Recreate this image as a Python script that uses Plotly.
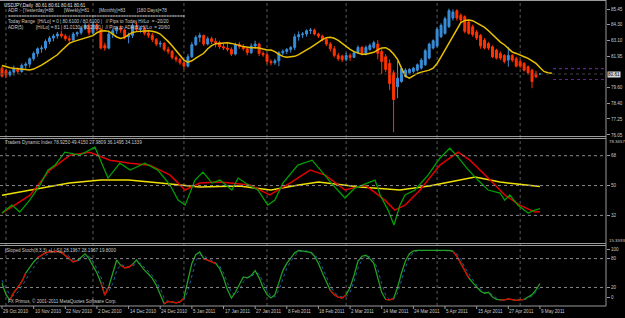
import plotly.graph_objects as go
import pandas as pd

# ---------------- data ----------------
dates = pd.bdate_range("2010-10-29", "2011-05-09")  # daily bars (weekdays)
idx = list(range(len(dates)))

opens = [81.05,80.85,80.55,80.75,81.00,80.80,81.25,81.35,81.75,82.15,82.50,82.55,83.05,83.30,83.45,83.60,83.45,83.25,83.15,83.60,
         83.70,84.05,84.25,83.70,84.30,83.95,82.75,82.55,83.60,83.85,84.05,83.90,83.40,83.50,84.20,83.95,84.00,83.65,83.50,83.20,
         82.85,82.90,82.45,82.30,81.85,81.70,81.45,81.20,81.90,82.80,83.35,83.50,82.85,83.25,83.05,82.95,82.65,82.55,82.45,82.10,
         82.80,82.65,82.50,82.20,82.70,82.85,82.15,82.05,81.55,81.45,81.60,82.20,82.30,82.45,82.60,83.40,83.55,83.60,83.85,83.90,
         83.60,83.45,83.20,82.85,82.50,82.00,81.95,81.70,82.00,81.85,82.20,82.60,82.10,82.45,82.60,82.85,82.30,81.90,81.40,80.70,
         79.65,80.05,80.45,80.70,80.80,80.90,81.05,81.30,81.80,82.55,82.70,83.40,83.65,84.15,84.80,85.35,85.00,84.90,84.50,84.15,
         83.75,83.50,83.15,82.90,82.65,82.40,82.15,82.00,81.65,82.00,81.75,81.55,81.40,81.15,80.90,80.65,80.61]
highs = [81.20,81.00,80.90,81.25,81.10,81.40,81.50,81.85,82.30,82.60,82.75,83.20,83.45,83.60,83.75,83.85,83.60,83.50,83.75,83.80,
         84.20,84.45,84.40,84.45,84.40,84.05,82.95,83.85,84.00,84.15,84.25,84.00,83.70,84.40,84.50,84.20,84.15,83.90,83.70,83.30,
         83.10,83.00,82.65,82.40,82.00,81.80,81.60,82.10,83.00,83.50,83.70,83.55,83.40,83.40,83.30,83.10,82.90,82.85,82.60,82.95,
         83.00,82.85,82.60,82.90,83.10,82.95,82.30,82.15,81.70,81.75,82.30,82.45,82.55,82.70,83.60,83.80,83.75,83.95,84.05,84.00,
         83.70,83.55,83.35,83.00,82.70,82.20,82.05,82.20,82.15,82.30,82.75,82.70,82.75,82.90,83.10,83.15,82.50,82.10,81.70,80.90,
         81.60,81.10,81.05,81.05,81.15,81.40,81.80,82.50,82.95,83.20,84.10,84.40,84.90,85.50,85.45,85.45,85.15,85.00,84.65,84.30,
         83.90,83.60,83.30,83.00,82.75,82.50,82.30,82.10,82.65,82.10,81.90,81.70,81.50,81.25,81.00,80.85,80.61]
lows = [80.35,80.30,80.40,80.50,80.60,80.70,81.00,81.10,81.60,81.90,82.20,82.40,82.85,83.05,83.25,83.30,83.10,82.95,83.10,83.40,
        83.55,83.90,83.50,83.60,83.80,82.45,82.35,82.45,83.30,83.60,83.70,83.20,82.90,83.30,83.80,83.70,83.50,83.30,83.00,82.70,
        82.60,82.30,82.10,81.70,81.50,81.30,80.95,81.10,81.80,82.70,83.00,82.70,82.75,82.85,82.60,82.50,82.40,82.30,81.95,82.00,
        82.50,82.35,82.00,82.10,82.50,81.95,81.90,81.35,81.25,81.30,81.20,82.00,82.10,82.20,82.40,83.10,83.30,83.40,83.60,83.50,
        83.30,83.05,82.70,82.30,81.85,81.60,81.50,81.55,81.60,81.80,82.10,82.00,82.00,82.35,82.50,81.70,80.60,80.75,79.40,76.25,
        78.80,79.95,80.35,80.60,80.65,80.80,80.95,81.20,81.70,82.45,82.60,83.30,83.55,84.05,84.60,84.60,84.50,83.65,83.55,83.40,
        83.15,82.50,82.45,82.40,81.80,81.70,81.65,81.40,81.15,81.50,81.10,81.05,80.80,80.55,79.55,80.30,80.61]
closes = [80.45,80.55,80.75,81.00,80.80,81.25,81.35,81.75,82.15,82.50,82.55,83.05,83.30,83.45,83.60,83.45,83.25,83.15,83.60,83.70,
          84.05,84.25,83.70,84.30,83.95,82.55,82.55,83.60,83.85,84.05,83.90,83.40,83.50,84.20,83.95,84.00,83.65,83.50,83.20,82.85,
          82.90,82.45,82.30,81.85,81.70,81.45,81.20,81.90,82.80,83.35,83.50,82.85,83.25,83.05,82.95,82.65,82.55,82.45,82.10,82.80,
          82.65,82.50,82.20,82.70,82.85,82.15,82.05,81.55,81.45,81.60,82.20,82.30,82.45,82.60,83.40,83.55,83.60,83.85,83.90,83.60,
          83.45,83.20,82.85,82.50,82.00,81.75,81.70,82.00,81.85,82.20,82.60,82.10,82.60,82.75,82.95,82.15,81.55,80.95,79.90,78.70,
          80.30,81.00,80.90,80.95,81.05,81.30,81.65,82.35,82.85,83.10,83.95,84.25,84.75,85.35,85.25,84.80,84.65,83.80,83.65,83.55,
          83.30,82.70,82.55,82.55,81.90,81.80,81.80,81.55,82.00,81.65,81.20,81.20,80.90,80.70,80.05,80.40,80.61]

price_ma = [81.24,81.15,81.08,81.04,81.00,80.96,80.93,80.91,80.98,81.11,81.27,81.46,81.65,81.86,82.05,82.35,82.65,82.90,83.03,83.13,
            83.20,83.28,83.38,83.48,83.70,83.82,83.85,83.80,83.60,83.38,83.27,83.35,83.55,83.72,83.78,83.80,83.83,83.85,83.80,83.73,
            83.60,83.35,83.05,82.73,82.36,81.98,81.65,81.50,81.60,81.80,81.95,82.16,82.50,82.73,82.88,82.90,82.95,82.95,82.90,82.85,
            82.75,82.66,82.61,82.58,82.58,82.56,82.48,82.41,82.41,82.28,82.08,81.93,81.86,81.88,81.93,82.06,82.21,82.41,82.58,82.80,
            82.98,83.18,83.33,83.35,83.28,83.13,82.90,82.66,82.46,82.28,82.16,82.08,82.08,82.13,82.23,82.41,82.56,82.58,82.41,82.11,
            81.71,81.05,80.45,80.30,80.50,80.65,80.75,80.80,80.90,81.05,81.40,81.90,82.40,82.90,83.40,84.00,84.45,84.62,84.65,84.60,
            84.45,84.30,84.10,83.85,83.55,83.25,83.00,82.80,82.50,82.25,82.15,82.05,81.90,81.78,81.60,81.40,81.10,80.80,80.70,80.66]

tdi_g_idx = [0,2.5,4.5,7,9.6,11.6,13.4,15.9,19.7,23.5,26.8,29.8,32.4,36.1,39.4,42.5,44.5,46.3,48.8,50.8,53.1,55.1,58.1,59.7,
             62.7,64.7,67.2,69,71,74.8,78.4,80.9,83.7,86.7,89.2,93,94.3,95.6,97.6,99.1,100.6,101.9,104.4,107.7,110.7,113.2,
             115.3,117.5,120.3,122.9,125.9,127.1,128.4,130.4,133,134.7,136]
tdi_green = [33.4,38.2,34.0,41.2,50.3,59.3,62.3,70.1,68.3,73.1,54.5,63.5,59.3,63.5,59.3,50.3,41.2,38.2,53.3,58.1,51.5,53.3,47.3,54.5,
             49.7,47.3,38.2,41.2,51.5,62.3,65.3,58.1,50.3,42.5,48.5,52.1,53.3,44.3,35.2,26.2,38.2,44.3,47.3,56.3,66.5,72.5,
             67.1,60.5,53.3,47.3,45.5,41.2,44.3,38.2,33.4,35.2,36.15]
tdi_r_idx = [0,7.1,12.1,17.2,22.2,27.3,32.4,37.4,42.5,46.3,50,55.1,62.7,67.7,72.8,77.9,81.7,86.7,91.8,96.8,99.3,101.9,105.7,
             110.7,115.3,118.3,123.4,127.1,130.9,134.7,136]
tdi_red = [33.4,44.2,59.3,68.3,70.1,65.3,63.5,62.3,56.3,47.3,51.5,52.1,50.3,44.3,51.5,59.3,56.3,47.3,50.3,41.2,35.2,38.2,47.3,
           62.3,70.1,65.3,53.3,44.3,38.2,34.0,34.13]
tdi_y_idx = [0,7,17,25,32,40,46,50,60,68,75,80,90.5,100.6,108,115.8,119.6,125.9,136]
tdi_yellow = [44.2,47.3,51.5,53.3,53.3,51.5,50.3,49.1,49.7,47.3,50.3,52.1,49.1,47.3,49.7,53.3,55.1,52.1,49.4]

stoch_main = [29,5,-6,10,20,32,50,62,73,82,87,92,94,95,95,93,87,80,73,76,83,90,80,66,50,30,4,22,50,77,
              66,61,62,68,77,66,56,48,39,25,5,-14,-9,-10,-12,-10,-2,35,70,88,94,80,77,74,70,60,40,15,-2,10,
              25,42,40,45,55,40,20,5,-2,5,30,55,70,80,92,97,96,95,93,85,70,50,30,14,5,0,-2,5,20,45,
              75,85,87,80,70,40,10,-5,-6,-3,20,50,75,90,96,97,97,97,97,97,97,97,97,97,95,85,70,55,40,30,
              20,12,8,10,0,-5,-6,-6,-4,-6,-7,-6,-5,0,5,15,28.2]
stoch_sig = [35,18,5,3,10,22,35,50,62,73,81,87,91,94,95,94,91,85,78,75,78,85,85,75,60,42,20,12,28,55,
             68,65,62,64,70,70,62,54,45,33,18,-2,-9,-10,-11,-10,-6,12,45,75,88,86,80,76,72,65,50,30,10,4,
             14,32,40,42,50,48,32,14,2,0,15,40,60,74,86,94,96,96,94,89,78,62,42,24,10,3,0,1,10,32,
             60,78,86,84,76,58,28,4,-5,-5,8,35,62,82,93,96,97,97,97,97,97,97,97,97,96,90,78,62,48,36,
             25,16,10,9,5,-2,-5,-6,-5,-5,-6,-6,-5,-3,2,10,19.8]
stoch_red_ranges = [(2, 4), (5, 6), (9, 16), (17, 19), (25, 27), (30, 33), (41, 46), (51, 54),
                    (83, 87), (97, 99), (114, 118), (126, 132)]

price_ticks = [85.45, 84.30, 83.10, 81.95, 79.60, 78.40, 77.25, 76.05]
tdi_levels = [68, 50, 32]
stoch_levels = [80, 20]
last_price = 80.61
adr_hi, adr_lo = 81.013, 80.20

# ---------------- styling ----------------
BLUE = "#3A8ED8"
RED = "#FF3300"
GOLD = "#E8C000"
FONT = "Liberation Sans"
FS = 4.6
TXT = "#C8C8C8"
GRAY = "#9A9A9A"

PW, PH = 606.0, 306.0
def py(y):
    return (PH - y) / PH
def px(x):
    return x / PW

fig = go.Figure()

fig.add_trace(go.Candlestick(
    x=idx, open=opens, high=highs, low=lows, close=closes,
    increasing=dict(line=dict(color=BLUE, width=1), fillcolor=BLUE),
    decreasing=dict(line=dict(color=RED, width=1), fillcolor=RED),
    whiskerwidth=0, xaxis="x", yaxis="y", hoverinfo="skip", showlegend=False))

fig.add_trace(go.Scatter(x=list(range(len(price_ma))), y=price_ma, mode="lines",
                         line=dict(color=GOLD, width=1.5), xaxis="x", yaxis="y", hoverinfo="skip"))

fig.add_trace(go.Scatter(x=tdi_y_idx, y=tdi_yellow, mode="lines", line=dict(color="#F0E000", width=1.5),
                         xaxis="x", yaxis="y2", hoverinfo="skip"))
fig.add_trace(go.Scatter(x=tdi_r_idx, y=tdi_red, mode="lines", line=dict(color="#E00000", width=1.5),
                         xaxis="x", yaxis="y2", hoverinfo="skip"))
fig.add_trace(go.Scatter(x=tdi_g_idx, y=tdi_green, mode="lines", line=dict(color="#00A000", width=1.3),
                         xaxis="x", yaxis="y2", hoverinfo="skip"))

fig.add_trace(go.Scatter(x=idx, y=stoch_sig, mode="lines", line=dict(color="#2060A0", width=1, dash="dot"),
                         xaxis="x", yaxis="y3", hoverinfo="skip"))
fig.add_trace(go.Scatter(x=idx, y=stoch_main, mode="lines", line=dict(color="#22A022", width=1.3),
                         xaxis="x", yaxis="y3", hoverinfo="skip"))
red_y = [None] * len(stoch_main)
for a, b in stoch_red_ranges:
    for k in range(a, b + 1):
        red_y[k] = stoch_main[k]
fig.add_trace(go.Scatter(x=idx, y=red_y, mode="lines", line=dict(color="#E00000", width=1.3),
                         connectgaps=False, xaxis="x", yaxis="y3", hoverinfo="skip"))

shapes = []
for v in tdi_levels:
    shapes.append(dict(type="line", xref="x domain", yref="y2", x0=0, x1=1, y0=v, y1=v,
                       line=dict(color="#8A8A8A", width=1, dash="dot")))
for v in stoch_levels:
    shapes.append(dict(type="line", xref="x domain", yref="y3", x0=0, x1=1, y0=v, y1=v,
                       line=dict(color="#8A8A8A", width=1, dash="dot")))
shapes.append(dict(type="line", xref="x domain", yref="y", x0=0, x1=1, y0=last_price, y1=last_price,
                   line=dict(color="#404040", width=1, dash="dot")))
for v in (adr_hi, adr_lo):
    shapes.append(dict(type="line", xref="x", yref="y", x0=139.3, x1=152.7, y0=v, y1=v,
                       line=dict(color="#5A2A8A", width=1.2, dash="dot")))
month_starts = [i for i in range(1, len(dates)) if dates[i].month != dates[i - 1].month]
for i in month_starts:
    shapes.append(dict(type="line", xref="x", yref="paper", x0=i, x1=i, y0=0, y1=1,
                       line=dict(color="#5A5A5A", width=1, dash="dot"), layer="below"))
for yy in (0.5, 136.5, 138.5, 243.5, 245.5, 306.0):
    shapes.append(dict(type="line", xref="paper", yref="paper", x0=0, x1=1, y0=py(yy), y1=py(yy),
                       line=dict(color=GRAY, width=1)))
shapes.append(dict(type="line", xref="paper", yref="paper", x0=1, x1=1, y0=0, y1=1,
                   line=dict(color=GRAY, width=1)))

ann = []
def label(x, y, text, color=TXT, size=FS):
    ann.append(dict(x=px(x), y=py(y), xref="paper", yref="paper", text=text, showarrow=False,
                    xanchor="left", yanchor="middle", font=dict(family=FONT, size=size, color=color)))

label(2, 5, "USDJPY,Daily  80.61 80.61 80.61 80.61", "#E0E0E0")
label(6, 10.5, "ADR :- [Yesterday]=88")
label(62, 10.5, "[Weekly]=81")
label(97, 10.5, "[Monthly]=83")
label(135, 10.5, "[180 Days]=78")
label(6, 16, "=" * 66)
label(6, 21.7, "Today Range  [Hi/Lo] = 0 | 80.6100 / 80.6100 |   // Pips to Today Hi/Lo  = -20/20")
label(6, 27.3, "ADR(5)          [Hi/Lo] = 81 | 81.0130 / 80.2000 |  // Pips to ADR(5) Hi/Lo  = 20/60")
label(3, 142, "Traders Dynamic Index 78.9250 49.4150 27.9809 36.1495 34.1339")
label(3, 250, "[Sloped Stoch(8,3,3) +L(-S)] 28.1967 28.1967 19.8000")
label(6, 301, "FX Primus, \u00a9 2001-2011 MetaQuotes Software Corp.")

for yy, t in ((141, "78.3657"), (240.5, "15.3593")):
    ann.append(dict(x=1, y=py(yy), xref="paper", yref="paper", text=t, showarrow=False,
                    xanchor="left", yanchor="middle", xshift=1,
                    font=dict(family=FONT, size=4.4, color=TXT)))
ann.append(dict(x=1, y=last_price, xref="paper", yref="y", text="80.61", showarrow=False,
                xanchor="left", yanchor="middle", xshift=1, bgcolor="#D8D8D8", borderpad=0,
                font=dict(family=FONT, size=FS, color="#000000")))
for i in range(0, len(dates), 8):
    d = dates[i]
    ann.append(dict(x=i, y=py(311), xref="x", yref="paper", text=f"{d.day} {d.strftime('%b %Y')}",
                    showarrow=False, xanchor="left", yanchor="middle", xshift=-1,
                    font=dict(family=FONT, size=FS, color=TXT)))
    shapes.append(dict(type="line", xref="x", yref="paper", x0=i, x1=i, y0=py(306), y1=py(309),
                       line=dict(color=GRAY, width=1)))

axis_common = dict(side="right", ticks="outside", ticklen=3, tickcolor=GRAY, showgrid=False, zeroline=False,
                   tickfont=dict(family=FONT, size=FS, color=TXT), showline=False, fixedrange=True)

fig.update_layout(
    width=625, height=318, margin=dict(l=0, r=19, t=0, b=12),
    paper_bgcolor="black", plot_bgcolor="black", showlegend=False,
    xaxis=dict(range=[-0.506, 152.7], showgrid=False, zeroline=False, showticklabels=False, ticks="",
               rangeslider=dict(visible=False), anchor="y3", fixedrange=True),
    yaxis=dict(domain=[py(136), py(1.0)], range=[75.974, 86.07], anchor="x",
               tickvals=price_ticks, ticktext=[f"{v:.2f}" for v in price_ticks], **axis_common),
    yaxis2=dict(domain=[py(243), py(138.5)], range=[15.3593, 78.3657], anchor="x",
                tickvals=tdi_levels, ticktext=[str(v) for v in tdi_levels], **axis_common),
    yaxis3=dict(domain=[py(306), py(245.5)], range=[-18.6, 107.3], anchor="x",
                tickvals=[100, 80, 20, 0], ticktext=["100", "80", "20", "0"], **axis_common),
    shapes=shapes, annotations=ann,
)

fig.write_html("out.html")
